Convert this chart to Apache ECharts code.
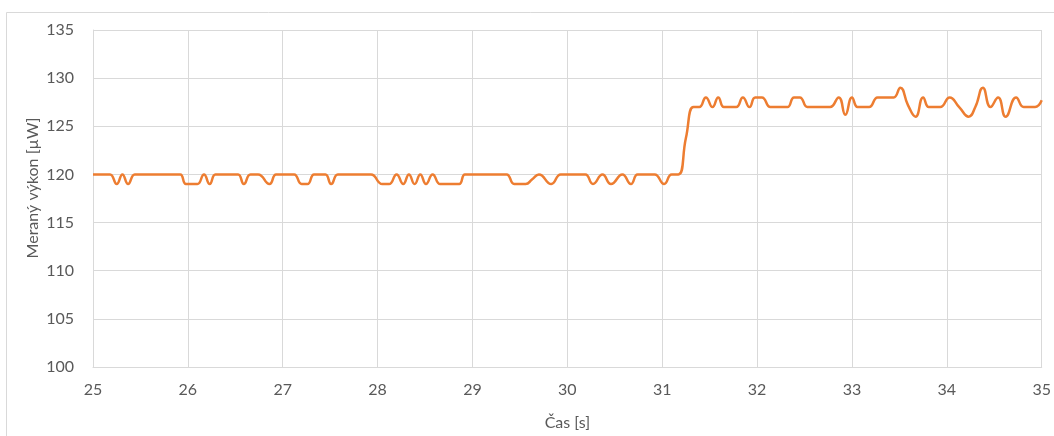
<!DOCTYPE html>
<html>
<head>
<meta charset="utf-8">
<script src="https://cdn.jsdelivr.net/npm/echarts@6/dist/echarts.min.js"></script>
<style>
html,body{margin:0;padding:0;background:#fff;}
#c{width:1054px;height:436px;}
</style>
</head>
<body>
<div id="c"></div>
<script>
const times = [
  25.00, 25.06, 25.12, 25.18, 25.25, 25.31, 25.37, 25.44, 25.50, 25.56,
  25.62, 25.68, 25.74, 25.80, 25.86, 25.92, 25.98, 26.04, 26.10, 26.17,
  26.23, 26.29, 26.35, 26.41, 26.47, 26.53, 26.59, 26.66, 26.74, 26.86,
  26.93, 27.00, 27.06, 27.12, 27.20, 27.26, 27.33, 27.39, 27.45, 27.51,
  27.58, 27.65, 27.72, 27.79, 27.86, 27.93, 28.05, 28.12, 28.20, 28.27,
  28.33, 28.39, 28.45, 28.51, 28.58, 28.66, 28.73, 28.80, 28.86, 28.92,
  28.98, 29.05, 29.11, 29.17, 29.23, 29.30, 29.36, 29.44, 29.50, 29.56,
  29.63, 29.70, 29.83, 29.93, 30.00, 30.06, 30.13, 30.19, 30.27, 30.37,
  30.46, 30.58, 30.67, 30.74, 30.80, 30.86, 30.92, 31.02, 31.10, 31.17,
  31.25, 31.33, 31.39, 31.46, 31.53, 31.59, 31.65, 31.71, 31.78, 31.85,
  31.92, 31.98, 32.05, 32.14, 32.20, 32.26, 32.32, 32.39, 32.45, 32.53,
  32.59, 32.65, 32.71, 32.77, 32.86, 32.93, 33.00, 33.06, 33.12, 33.18,
  33.27, 33.33, 33.39, 33.44, 33.51, 33.59, 33.67, 33.75, 33.81, 33.87,
  33.93, 34.03, 34.13, 34.23, 34.30, 34.38, 34.46, 34.54, 34.62, 34.73,
  34.81, 34.87, 34.93, 35.00
];
// Measured power [µW]
const power = [
  120, 120, 120, 120, 119, 120, 119, 120, 120, 120,
  120, 120, 120, 120, 120, 120, 119, 119, 119, 120,
  119, 120, 120, 120, 120, 120, 119, 120, 120, 119,
  120, 120, 120, 120, 119, 119, 120, 120, 120, 119,
  120, 120, 120, 120, 120, 120, 119, 119, 120, 119,
  120, 119, 120, 119, 120, 119, 119, 119, 119, 120,
  120, 120, 120, 120, 120, 120, 120, 119, 119, 119,
  119.5, 120, 119, 120, 120, 120, 120, 120, 119, 120,
  119, 120, 119, 120, 120, 120, 120, 119, 120, 120,
  123.8, 127, 127, 128, 127, 128, 127, 127, 127, 128,
  127, 128, 128, 127, 127, 127, 127, 128, 128, 127,
  127, 127, 127, 127, 128, 126.2, 128, 127, 127, 127,
  128, 128, 128, 128, 129, 127.2, 126, 128, 127, 127,
  127, 128, 127, 126, 127, 129, 127, 128, 126, 128,
  127, 127, 127, 127.7
];
const xTicks = [25, 26, 27, 28, 29, 30, 31, 32, 33, 34, 35];
const yTicks = [100, 105, 110, 115, 120, 125, 130, 135];
const xTitle = 'Čas [s]';
const yTitle = 'Meraný výkon [µW]';

const seriesData = times.map((t, i) => [t, power[i]]);
const FONT = 'Lato';
const TXT = '#595959';
const GRID = '#D9D9D9';

const chart = echarts.init(document.getElementById('c'), null, {renderer: 'canvas'});
chart.setOption({
  animation: false,
  backgroundColor: '#ffffff',
  grid: {left: 93, right: 11, top: 30, bottom: 68, containLabel: false},
  xAxis: {
    type: 'value',
    min: xTicks[0], max: xTicks[xTicks.length - 1], interval: xTicks[1] - xTicks[0],
    name: xTitle, nameLocation: 'middle', nameGap: 48,
    nameTextStyle: {fontFamily: FONT, fontSize: 16, color: TXT},
    axisLine: {show: true, lineStyle: {color: GRID, width: 1}},
    axisTick: {show: false},
    axisLabel: {fontFamily: FONT, fontSize: 16, color: TXT, margin: 15},
    splitLine: {show: true, lineStyle: {color: GRID, width: 1}}
  },
  yAxis: {
    type: 'value',
    min: yTicks[0], max: yTicks[yTicks.length - 1], interval: yTicks[1] - yTicks[0],
    axisLine: {show: true, lineStyle: {color: GRID, width: 1}},
    axisTick: {show: false},
    axisLabel: {fontFamily: FONT, fontSize: 16, color: TXT, margin: 19},
    splitLine: {show: true, lineStyle: {color: GRID, width: 1}}
  },
  graphic: [
    {type: 'rect', shape: {x: 6.5, y: 12.5, width: 1200, height: 600},
     style: {fill: 'none', stroke: GRID, lineWidth: 1}, silent: true, z: -1},
    {type: 'text', x: 33, y: 188, rotation: Math.PI / 2,
     style: {text: yTitle, fontFamily: FONT, fontSize: 16, fill: TXT,
             align: 'center', verticalAlign: 'middle'}}
  ],
  series: [{
    type: 'line',
    data: seriesData,
    showSymbol: false,
    smooth: 0.5,
    lineStyle: {color: '#ED7D31', width: 2.5},
    itemStyle: {color: '#ED7D31'}
  }]
});
</script>
</body>
</html>
